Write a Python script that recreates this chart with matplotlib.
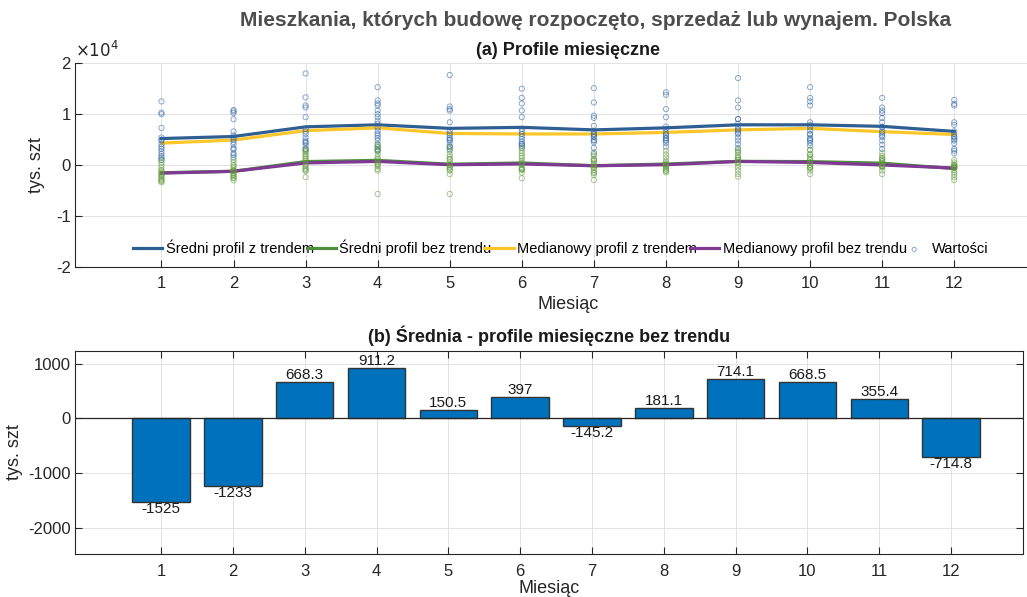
import matplotlib.pyplot as plt
import numpy as np
from matplotlib.ticker import FuncFormatter

plt.rcParams['font.family'] = ['Liberation Sans', 'DejaVu Sans']
plt.rcParams['axes.unicode_minus'] = False

months = np.arange(1, 13)

# monthly values (szt), one list per month
values_trend = [
    [12500, 10300, 10000, 7300, 5400, 5000, 4800, 4100, 3600, 3200, 2700, 2200, 1700, 1400, 1000],
    [10800, 10550, 10200, 9000, 6600, 5800, 5400, 5000, 4500, 4000, 3300, 3100, 2300, 2000, 1500],
    [18000, 13300, 11700, 11300, 9400, 7100, 6600, 6100, 5400, 4800, 4500, 4300, 3800, 3200, 3000],
    [15300, 12700, 12100, 11700, 10700, 10000, 9400, 8700, 8100, 7400, 6750, 6200, 5800, 5300, 4800, 4000, 3500, 3000, 2800],
    [17700, 11500, 11000, 10700, 8400, 6750, 6200, 5800, 5300, 5000, 4900, 4400, 3750, 3500, 3100],
    [15000, 13200, 12100, 10700, 9400, 7100, 6600, 6100, 5600, 5100, 4600, 4200, 4100, 3800, 3400],
    [15100, 12300, 9700, 9250, 7700, 6600, 6100, 6000, 5600, 5500, 4900, 4800, 4450, 3350, 2150],
    [14300, 13800, 11000, 9400, 7550, 7100, 6400, 6000, 5800, 5300, 5300, 4850, 4800, 4300, 3600],
    [17100, 12700, 11300, 9050, 9000, 8100, 7400, 7000, 6750, 6350, 6100, 5400, 4800, 4100, 3350],
    [15300, 13200, 12500, 11700, 8400, 7900, 7400, 6750, 6100, 6000, 5300, 5000, 4800, 4350, 3800],
    [13200, 11300, 10700, 10200, 9250, 8400, 7500, 7400, 6600, 6200, 5800, 5500, 4800, 4000, 3150],
    [12800, 12000, 11700, 8400, 7900, 6600, 6100, 5600, 5500, 5100, 4800, 4250, 3150, 2800, 2300],
]
values_detrended = [
    [1000, 500, 0, -500, -1000, -1200, -1500, -1800, -2000, -2200, -2500, -2800, -3000, -3200, -3400],
    [1000, 500, 0, -300, -700, -1100, -1100, -1200, -1500, -1800, -2000, -2200, -2500, -2600, -3000],
    [3100, 2800, 2500, 2100, 1800, 1500, 1200, 850, 200, -150, -500, -800, -1000, -1200, -2400],
    [4100, 3600, 3100, 2700, 2100, 1500, 1200, 850, 500, 200, 0, -300, -800, -1100, -5700],
    [3500, 2800, 2100, 1600, 1200, 1000, 500, 50, 0, -500, -500, -900, -1100, -1800, -5700],
    [3300, 2800, 2300, 1800, 1400, 850, 500, 200, 0, -500, -800, -800, -1000, -1500, -2600],
    [2500, 1800, 1200, 1000, 850, 500, 200, -150, -500, -600, -1000, -1450, -1600, -1980, -2950],
    [2800, 2100, 1500, 850, 500, 200, 100, 0, 0, -300, -500, -800, -1100, -1200, -1450],
    [3000, 2700, 2500, 2000, 1500, 1500, 1000, 1000, 650, 500, 50, -500, -1100, -1800, -2300],
    [3000, 2950, 2150, 2000, 1600, 1200, 1000, 500, 50, 0, -450, -500, -600, -1100, -1800],
    [2400, 1800, 1400, 1200, 1000, 800, 500, 300, 50, -200, -200, -320, -500, -1100, -1800],
    [1000, 500, 50, 0, -200, -300, -500, -500, -600, -470, -1000, -1450, -1900, -2400, -2950],
]

mean_trend = [5200, 5600, 7500, 7900, 7200, 7400, 6900, 7300, 7900, 7900, 7600, 6600]
median_trend = [4300, 4900, 6750, 7300, 6200, 6100, 6100, 6400, 6900, 7200, 6550, 6000]
mean_detrended = [-1525, -1233, 668.3, 911.2, 150.5, 397, -145.2, 181.1, 714.1, 668.5, 355.4, -714.8]
median_detrended = [-1600, -1250, 400, 700, 50, 200, -150, 50, 700, 500, 0, -600]

txt_col = '#262626'
grid_col = '#e2e2e2'

fig = plt.figure(figsize=(10.27, 5.97), dpi=100)
# top axes runs past the right edge of the figure (as in the original)
ax1 = fig.add_axes([0.073, 0.5533, 0.96, 0.3407])
ax2 = fig.add_axes([0.073, 0.0715, 0.923, 0.341])

fig.text(0.58, 1 - 20 / 597, 'Mieszkania, których budowę rozpoczęto, sprzedaż lub wynajem. Polska',
         ha='center', va='center', fontsize=15, fontweight='bold', color='#4d4d4d')

# --- (a) profiles
ax1.plot(months, mean_trend, color='#2f5f92', lw=2.3, label='Średni profil z trendem')
ax1.plot(months, mean_detrended, color='#4f8f3e', lw=2.3, label='Średni profil bez trendu')
ax1.plot(months, median_trend, color='#fac62a', lw=2.3, label='Medianowy profil z trendem')
ax1.plot(months, median_detrended, color='#7e3a92', lw=2.3, label='Medianowy profil bez trendu')

for i, m in enumerate(months):
    ax1.scatter([m] * len(values_trend[i]), values_trend[i], s=14, facecolors='none',
                edgecolors='#2a62a8', linewidths=0.7, alpha=0.55,
                label='Wartości' if i == 0 else None, zorder=3)
    ax1.scatter([m] * len(values_detrended[i]), values_detrended[i], s=14, facecolors='none',
                edgecolors='#5f9a3a', linewidths=0.7, alpha=0.55, zorder=3)

ax1.set_xlim(-0.2, 13.48)
ax1.set_ylim(-20000, 20000)
ax1.set_yticks([-20000, -10000, 0, 10000, 20000])
ax1.set_xticks(months)
ax1.yaxis.set_major_formatter(FuncFormatter(lambda v, _: f'{v / 1e4:g}'))
ax1.text(0, 1.015, r'$\times10^{4}$', transform=ax1.transAxes, ha='left', va='bottom',
         fontsize=12, color=txt_col)
ax1.spines['top'].set_visible(False)
ax1.spines['right'].set_visible(False)
ax1.set_title('(a) Profile miesięczne', fontsize=13, fontweight='bold', color='#1a1a1a')
ax1.set_xlabel('Miesiąc', fontsize=13, color=txt_col, labelpad=3)
ax1.set_ylabel('tys. szt', fontsize=13, color=txt_col, labelpad=8)
ax1.legend(loc='center', bbox_to_anchor=(0.493, 0.092), ncol=5, frameon=False, fontsize=10.5,
           handlelength=2.0, handletextpad=0.25, columnspacing=-0.5, markerscale=0.8)

# --- (b) bars
ax2.bar(months, mean_detrended, width=0.8, color='#0072BD', edgecolor='#333333', linewidth=1, zorder=2)
ax2.axhline(0, color=txt_col, lw=0.9, zorder=3)
for m, v in zip(months, mean_detrended):
    ax2.text(m, v, f'{v:.4g}', ha='center', va='bottom' if v > 0 else 'top',
             fontsize=11, color='#1a1a1a')
ax2.set_xlim(-0.2, 13)
ax2.set_ylim(-2490, 1235)
ax2.set_yticks([-2000, -1000, 0, 1000])
ax2.set_xticks(months)
ax2.tick_params(top=True, right=True)
ax2.set_title('(b) Średnia - profile miesięczne bez trendu', fontsize=13, fontweight='bold', color='#1a1a1a')
ax2.set_xlabel('Miesiąc', fontsize=13, color=txt_col, labelpad=1)
ax2.set_ylabel('tys. szt', fontsize=13, color=txt_col, labelpad=4)

for ax in (ax1, ax2):
    ax.grid(True, color=grid_col, lw=0.7)
    ax.set_axisbelow(True)
    ax.tick_params(direction='in', length=5, width=0.8, labelsize=12, colors=txt_col)
    ax.tick_params(axis='y', pad=3)
    ax.tick_params(axis='x', pad=7)
    for s in ax.spines.values():
        s.set_color(txt_col)
        s.set_linewidth(0.8)

fig.savefig('out.png', dpi=100)
